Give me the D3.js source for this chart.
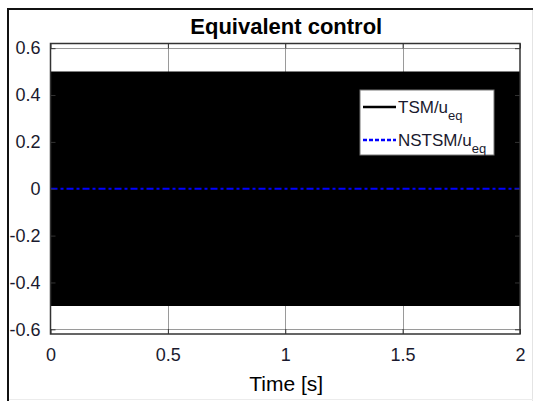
<!DOCTYPE html>
<html>
<head>
<meta charset="utf-8">
<script src="https://cdn.jsdelivr.net/npm/d3@7"></script>
<style>
  html, body { margin: 0; padding: 0; background: #fff; }
  svg { display: block; font-family: "Liberation Sans", Arial, sans-serif; }
</style>
</head>
<body>
<svg id="chart" width="533" height="401"></svg>
<script>
// time axis and value axis ticks
const xTicks = [0, 0.5, 1, 1.5, 2];
const yTicks = [-0.6, -0.4, -0.2, 0, 0.2, 0.4, 0.6];

// TSM equivalent control chatters between these bounds over the whole run
const tsmTime = [0, 2];
const tsmLow = [-0.5, -0.5];
const tsmHigh = [0.5, 0.5];

// NSTSM equivalent control stays at zero
const nstsmTime = [0, 2];
const nstsmValue = [0, 0];

const svg = d3.select("#chart");
const W = 533, H = 401;
const plot = { left: 50.5, right: 520, top: 43.5, bottom: 334 };

const x = d3.scaleLinear().domain([0, 2]).range([plot.left, plot.right]);
const y = d3.scaleLinear().domain([-0.62, 0.62]).range([plot.bottom, plot.top]);

// panel frame
svg.append("rect").attr("x", 0).attr("y", 0).attr("width", W).attr("height", H).attr("fill", "#fff");
svg.append("line").attr("x1", 532.5).attr("x2", 532.5).attr("y1", 8).attr("y2", H).attr("stroke", "#e4e4e4");
svg.append("line").attr("x1", 7).attr("x2", W).attr("y1", 399.5).attr("y2", 399.5).attr("stroke", "#ececec");

// grid
const grid = svg.append("g").attr("stroke", "#9a9a9a").attr("stroke-width", 1);
xTicks.slice(1, -1).forEach(t => {
  grid.append("line").attr("x1", Math.round(x(t)) + 0.5).attr("x2", Math.round(x(t)) + 0.5)
    .attr("y1", plot.top).attr("y2", plot.bottom);
});
yTicks.forEach(t => {
  grid.append("line").attr("x1", plot.left).attr("x2", plot.right)
    .attr("y1", Math.round(y(t)) + 0.5).attr("y2", Math.round(y(t)) + 0.5);
});

// TSM band
const band = tsmTime.map((t, i) => ({ t, lo: tsmLow[i], hi: tsmHigh[i] }));
svg.append("path")
  .datum(band)
  .attr("fill", "#000")
  .attr("d", d3.area().x(d => x(d.t)).y0(d => y(d.lo)).y1(d => y(d.hi)));

// NSTSM line
const nst = nstsmTime.map((t, i) => ({ t, v: nstsmValue[i] }));
svg.append("path")
  .datum(nst)
  .attr("fill", "none")
  .attr("stroke", "#0000ff")
  .attr("stroke-width", 2)
  .attr("stroke-dasharray", "7,3,3,3")
  .attr("d", d3.line().x(d => x(d.t)).y(d => y(d.v)));

// axes with inward ticks
const fontSize = 18;
const xAxis = svg.append("g").attr("transform", `translate(0,${plot.bottom})`)
  .call(d3.axisBottom(x).tickValues(xTicks).tickFormat(d3.format("")).tickSizeInner(-5).tickSizeOuter(0).tickPadding(14));
const xTop = svg.append("g").attr("transform", `translate(0,${plot.top})`)
  .call(d3.axisTop(x).tickValues(xTicks).tickFormat("").tickSizeInner(-5).tickSizeOuter(0));
const yAxis = svg.append("g").attr("transform", `translate(${plot.left},0)`)
  .call(d3.axisLeft(y).tickValues(yTicks).tickFormat(d3.format("")).tickSizeInner(-5).tickSizeOuter(0).tickPadding(10));
const yRight = svg.append("g").attr("transform", `translate(${plot.right},0)`)
  .call(d3.axisRight(y).tickValues(yTicks).tickFormat("").tickSizeInner(-5).tickSizeOuter(0));

[xAxis, xTop, yAxis, yRight].forEach(g => {
  g.select(".domain").remove();
  g.selectAll(".tick line").attr("stroke", "#333");
  g.selectAll("text").attr("font-size", fontSize).attr("fill", "#1a1a2e")
    .attr("font-family", "'Liberation Sans', Arial, sans-serif");
});
yAxis.selectAll("text").text(d => d === 0 ? "0" : d.toFixed(1));

// plot box
svg.append("rect")
  .attr("x", plot.left).attr("y", plot.top)
  .attr("width", plot.right - plot.left).attr("height", plot.bottom - plot.top)
  .attr("fill", "none").attr("stroke", "#333").attr("stroke-width", 1.5);

// outer border drawn over the clipped tick labels
svg.append("path")
  .attr("d", `M8,${H} L8,9 L${W},9`)
  .attr("fill", "none").attr("stroke", "#111").attr("stroke-width", 2);

// title and axis label
svg.append("text").attr("x", (plot.left + plot.right) / 2 + 1).attr("y", 34)
  .attr("text-anchor", "middle").attr("font-size", 22).attr("font-weight", "bold")
  .attr("fill", "#000").text("Equivalent control");
svg.append("text").attr("x", (plot.left + plot.right) / 2 + 1).attr("y", 391)
  .attr("text-anchor", "middle").attr("font-size", 21)
  .attr("fill", "#000").text("Time [s]");

// legend
const legend = svg.append("g").attr("transform", "translate(360,90)");
legend.append("rect").attr("width", 134).attr("height", 65)
  .attr("fill", "#fff").attr("stroke", "#777").attr("stroke-width", 1);
const items = [
  { name: "TSM/u", color: "#000", dash: null, yy: 17 },
  { name: "NSTSM/u", color: "#0000ff", dash: "4,2", yy: 50 }
];
items.forEach(it => {
  legend.append("line").attr("x1", 3).attr("x2", 36).attr("y1", it.yy).attr("y2", it.yy)
    .attr("stroke", it.color).attr("stroke-width", 2.5)
    .attr("stroke-dasharray", it.dash);
  const t = legend.append("text").attr("x", 38).attr("y", it.yy + 6)
    .attr("font-size", 17).attr("fill", "#1a1a2e");
  t.append("tspan").text(it.name);
  t.append("tspan").attr("dy", 7).attr("font-size", 13).text("eq");
});
</script>
</body>
</html>
